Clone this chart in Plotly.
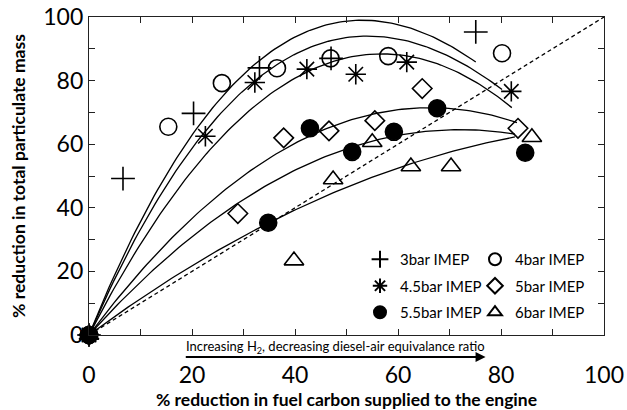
import numpy as np
import plotly.graph_objects as go

# ---------------- data ----------------
series_names = ["3bar IMEP", "4bar IMEP", "4.5bar IMEP", "5bar IMEP", "5.5bar IMEP", "6bar IMEP"]

x_3bar = [0, 6.6, 20.3, 33.1, 47.0, 75.1]
y_3bar = [0, 49.2, 69.7, 84.0, 87.0, 95.3]

x_4bar = [0, 15.4, 25.8, 36.5, 46.9, 58.1, 80.2]
y_4bar = [0, 65.5, 79.2, 83.9, 87.0, 87.7, 88.6]

x_45bar = [0, 22.6, 32.2, 42.3, 51.8, 61.7, 82.0]
y_45bar = [0, 62.5, 79.4, 83.6, 82.0, 85.8, 76.6]

x_5bar = [0, 28.9, 37.8, 46.6, 55.5, 64.7, 83.3]
y_5bar = [0, 38.2, 62.0, 64.2, 67.4, 77.5, 65.0]

x_55bar = [0, 34.8, 42.9, 51.1, 59.2, 67.6, 84.7]
y_55bar = [0, 35.3, 65.0, 57.6, 63.9, 71.3, 57.3]

x_6bar = [0, 39.8, 47.4, 55.0, 62.5, 70.3, 86.0]
y_6bar = [0, 23.4, 48.9, 60.6, 53.0, 53.0, 62.2]

# polynomial trend lines through origin: y = a*x + b*x^2 + c*x^3
trend_a = [4.0277, 3.7366, 3.1465, 2.160, 1.794, 1.198]
trend_b = [-0.04636, -0.04184, -0.02862, -0.01632, -0.01246, -0.00538]
trend_c = [0.0001058, 0.0000904, 0.000011, 0.0, 0.0, 0.0]
trend_xmax = [75.1, 80.2, 82.1, 83.1, 82.7, 82.7]

x_ticks = [0, 10, 20, 30, 40, 50, 60, 70, 80, 90, 100]
x_ticklabels = ["0", "", "20", "", "40", "", "60", "", "80", "", "100"]
y_ticks = [0, 10, 20, 30, 40, 50, 60, 70, 80, 90, 100]
y_ticklabels = ["0", "", "20", "", "40", "", "60", "", "80", "", "100"]

parity_x = [0, 100]
parity_y = [0, 100]

arrow_text = "Increasing H<sub>2</sub>, decreasing diesel-air equivalance ratio"
arrow_from_x = 18.5
arrow_to_x = 77.0

# ---------------- figure ----------------
FONT = "Lato"
W, H = 627, 410
ML, MR, MT, MB = 89, 23, 17, 75
PW = W - ML - MR
PH = H - MT - MB
BOTTOM = MT + PH


def paper_y(px):
    return (BOTTOM - px) / PH


fig = go.Figure()

# parity dashed line
fig.add_trace(go.Scatter(x=parity_x, y=parity_y, mode="lines",
                         line=dict(color="black", width=1.3, dash="4px,3px"),
                         showlegend=False, hoverinfo="skip"))

# trend curves
for a, b, c, xm in zip(trend_a, trend_b, trend_c, trend_xmax):
    xs = np.linspace(0, xm, 120)
    ys = a * xs + b * xs ** 2 + c * xs ** 3
    fig.add_trace(go.Scatter(x=xs, y=ys, mode="lines",
                             line=dict(color="black", width=1.3),
                             showlegend=False, hoverinfo="skip"))

marker_defs = [
    (x_3bar, y_3bar, "cross-thin-open", 17, "legend"),
    (x_4bar, y_4bar, "circle-open", 17, "legend2"),
    (x_45bar, y_45bar, "asterisk-open", 17, "legend"),
    (x_5bar, y_5bar, "diamond-open", 15, "legend2"),
    (x_55bar, y_55bar, "circle", 17, "legend"),
    (x_6bar, y_6bar, "triangle-up-open", 17, "legend2"),
]
for name, (xs, ys, sym, sz, lg) in zip(series_names, marker_defs):
    fig.add_trace(go.Scatter(
        x=xs, y=ys, mode="markers", name=name, legend=lg, legendgroup=name,
        cliponaxis=False,
        marker=dict(symbol=sym, size=sz, color="black",
                    line=dict(color="black", width=1.6)),
    ))

axis_common = dict(
    showline=True, linecolor="#222", linewidth=1.3, mirror="ticks",
    ticks="inside", ticklen=6, tickwidth=1, tickcolor="#222",
    showgrid=False, zeroline=False, automargin=False,
    tickfont=dict(family=FONT, size=23, color="black"),
)

legend_common = dict(
    xanchor="left", yanchor="top", orientation="v",
    bgcolor="rgba(0,0,0,0)", font=dict(family=FONT, size=15, color="black"),
    itemwidth=30, tracegroupgap=4, itemsizing="constant",
)

fig.update_layout(
    width=W, height=H,
    margin=dict(l=ML, r=MR, t=MT, b=MB),
    plot_bgcolor="white", paper_bgcolor="white",
    font=dict(family=FONT, color="black"),
    xaxis=dict(range=[0, 100], tickmode="array", tickvals=x_ticks, ticktext=x_ticklabels,
               ticklabelstandoff=19,
               title=dict(text="<b>% reduction in fuel carbon supplied to the engine</b>",
                          font=dict(family=FONT, size=17.5, color="black"), standoff=9),
               **axis_common),
    yaxis=dict(range=[0, 100], tickmode="array", tickvals=y_ticks, ticktext=y_ticklabels,
               title=dict(text="<b>% reduction in total particulate mass</b>",
                          font=dict(family=FONT, size=17.5, color="black"), standoff=13),
               **axis_common),
    legend=dict(x=(360 - ML) / PW, y=paper_y(243), **legend_common),
    legend2=dict(x=(475 - ML) / PW, y=paper_y(243), **legend_common),
)

# arrow and its label under the axis
arrow_px = (arrow_to_x - arrow_from_x) * PW / 100
fig.add_annotation(x=arrow_to_x, y=paper_y(357), xref="x", yref="paper",
                   ax=-arrow_px, ay=0, axref="pixel", ayref="pixel",
                   text="", showarrow=True, arrowhead=2, arrowsize=1, arrowwidth=2,
                   arrowcolor="black")
fig.add_annotation(x=arrow_from_x, y=paper_y(347), xref="x", yref="paper",
                   xanchor="left", yanchor="middle",
                   text=arrow_text, showarrow=False,
                   font=dict(family=FONT, size=13, color="black"))

fig.write_html("out.html")
